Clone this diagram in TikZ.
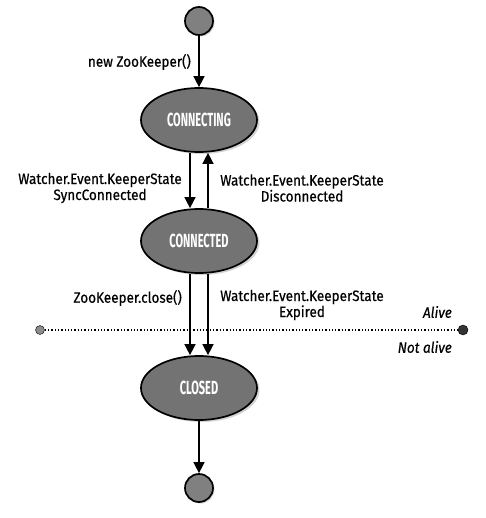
\documentclass[tikz,border=0pt]{standalone}
\usepackage{fontspec}
\setmainfont[FakeStretch=0.9, FakeBold=0.5]{Fira Sans}
\newfontfamily\statefont[FakeStretch=0.58]{Fira Sans}
\usetikzlibrary{arrows.meta,shapes.geometric,shadows}
\tikzset{
  state/.style={ellipse, draw=black, line width=1.7pt, fill=black!55,
    minimum width=116pt, minimum height=64pt, text=white,
    font=\statefont\fontsize{19}{19}\selectfont\bfseries,
    drop shadow={shadow xshift=2.5pt, shadow yshift=-2pt, opacity=0.35}},
  pseudo/.style={circle, draw=black, line width=1.7pt, fill=black!50,
    minimum size=28pt, inner sep=0pt,
    drop shadow={shadow xshift=1.5pt, shadow yshift=-1.5pt, opacity=0.35}},
  lbl/.style={font=\fontsize{15}{16}\selectfont, align=center, inner sep=1pt},
  zone/.style={font=\fontsize{15}{16}\selectfont\itshape, inner sep=1pt},
  trans/.style={line width=1.4pt, -{Triangle[width=11pt,length=11pt]}}
}
\begin{document}
\begin{tikzpicture}[x=1pt,y=-1pt]
  %%%%% START %%%%%
  \useasboundingbox (0,0) rectangle (485,518);

  \node[pseudo] (start) at (199,21) {};
  \node[state] (connecting) at (199,120) {CONNECTING};
  \node[state] (connected) at (199,241) {CONNECTED};
  \node[state] (closed) at (199,388) {CLOSED};
  \node[pseudo] (finish) at (199,488) {};

  \node[circle, draw=black, fill=black!45, minimum size=9pt, inner sep=0pt] (aliveL) at (40,330) {};
  \node[circle, draw=black, fill=black!80, minimum size=10pt, inner sep=0pt] (aliveR) at (463,330) {};
  \draw[dotted, line width=1.3pt] (aliveL) -- (aliveR);
  \node[zone, anchor=east] (alive) at (453,312) {Alive};
  \node[zone, anchor=east] (notalive) at (453,347) {Not alive};

  \draw[trans] (start) -- (connecting);
  \draw[trans] ([xshift=-9pt]connecting.south) -- ([xshift=-9pt]connected.north);
  \draw[trans] ([xshift=9pt]connected.north) -- ([xshift=9pt]connecting.south);
  \draw[trans] ([xshift=-9pt]connected.south) -- ([xshift=-9pt]closed.north);
  \draw[trans] ([xshift=9pt]connected.south) -- ([xshift=9pt]closed.north);
  \draw[trans] (closed) -- (finish);

  \node[lbl, anchor=east] (newzk) at (192,62) {new ZooKeeper()};
  \node[lbl] (syncconn) at (100,188) {Watcher.Event.KeeperState\\SyncConnected};
  \node[lbl] (disconn) at (302,188) {Watcher.Event.KeeperState\\Disconnected};
  \node[lbl, anchor=east] (zkclose) at (183,298) {ZooKeeper.close()};
  \node[lbl] (expired) at (302,305) {Watcher.Event.KeeperState\\Expired};
  %%%%% END %%%%%
\end{tikzpicture}
\end{document}
